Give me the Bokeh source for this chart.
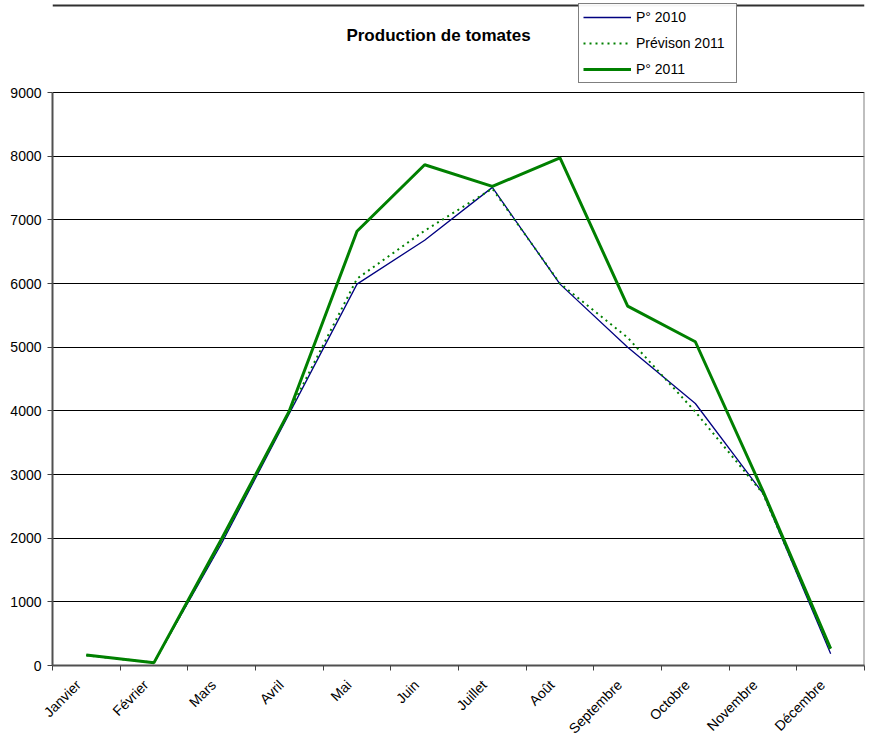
from bokeh.plotting import figure
from bokeh.models import (Range1d, FixedTicker, CustomJSTickFormatter, Label, Legend,
                          LegendItem, Span)
from bokeh.embed import file_html
from bokeh.resources import INLINE
import math

months = ["Janvier", "Février", "Mars", "Avril", "Mai", "Juin", "Juillet",
          "Août", "Septembre", "Octobre", "Novembre", "Décembre"]
p2010 = [160, 45, 1920, 3960, 5990, 6680, 7510, 5990, 5000, 4115, 2705, 185]
prev2011 = [160, 45, 1950, 3990, 6075, 6830, 7490, 6000, 5150, 3985, 2700, 230]
p2011 = [165, 45, 1990, 4000, 6820, 7865, 7525, 7975, 5645, 5085, 2740, 265]
y_ticks = [0, 1000, 2000, 3000, 4000, 5000, 6000, 7000, 8000, 9000]

xs = [i + 0.5 for i in range(len(months))]
label_ticks = [i + 0.38 for i in range(len(months))]
FONT = "Liberation Sans"

# the plotting frame reaches the top of the figure so that the title and the
# legend (drawn inside the frame) are not clipped; the value axis stops at 9000
y_top = y_ticks[-1] * 665 / 573

p = figure(width=865, height=746, output_backend="svg", toolbar_location=None,
           x_range=Range1d(0, len(months)), y_range=Range1d(y_ticks[0], y_top),
           min_border_left=52, min_border_right=1, min_border_top=0, min_border_bottom=81)
p.background_fill_color = "white"
p.border_fill_color = "white"
p.outline_line_color = None

# axes
p.xaxis.ticker = FixedTicker(ticks=label_ticks, minor_ticks=list(range(len(months) + 1)))
p.xaxis.formatter = CustomJSTickFormatter(args=dict(months=months),
                                          code="return months[Math.floor(tick)] || '';")
p.xaxis.major_label_orientation = math.pi / 4
p.xaxis.major_tick_out = 0
p.xaxis.major_tick_in = 0
p.xaxis.minor_tick_out = 5
p.xaxis.minor_tick_in = 0
p.xaxis.minor_tick_line_color = "#404040"
p.xaxis.major_label_standoff = 12

p.yaxis.ticker = FixedTicker(ticks=y_ticks, minor_ticks=[])
p.yaxis.bounds = (y_ticks[0], y_ticks[-1])
p.yaxis.major_tick_out = 5
p.yaxis.major_tick_in = 0
p.yaxis.major_label_standoff = 6

for ax in (p.xaxis, p.yaxis):
    ax.axis_line_color = "#505050"
    ax.axis_line_width = 2
    ax.major_tick_line_color = "#404040"
    ax.major_label_text_font = FONT
    ax.major_label_text_font_size = "14px"
    ax.major_label_text_color = "black"

p.xgrid.grid_line_color = None
p.ygrid.ticker = FixedTicker(ticks=y_ticks)
p.ygrid.grid_line_color = "#000000"
p.ygrid.grid_line_width = 1

# right edge of the plot area
p.segment(x0=[len(months)], y0=[y_ticks[0]], x1=[len(months)], y1=[y_ticks[-1]],
          line_color="#808080", line_width=2)

# outer chart border line at the very top
p.add_layout(Span(location=660, location_units="screen", dimension="width",
                  line_color="#303030", line_width=2))

r1 = p.line(xs, p2010, line_color="#000080", line_width=1.3)
r2 = p.line(xs, prev2011, line_color="#008000", line_width=2, line_dash="2 4")
r3 = p.line(xs, p2011, line_color="#008000", line_width=3)

legend = Legend(items=[LegendItem(label="P° 2010", renderers=[r1]),
                       LegendItem(label="Prévison 2011", renderers=[r2]),
                       LegendItem(label="P° 2011", renderers=[r3])],
                location=(526, 582))
legend.label_text_font = FONT
legend.label_text_font_size = "14px"
legend.label_text_color = "black"
legend.glyph_width = 48
legend.glyph_height = 18
legend.label_height = 18
legend.label_width = 96
legend.label_standoff = 5
legend.spacing = 8
legend.padding = 4
legend.margin = 0
legend.border_line_color = "black"
legend.border_line_width = 1
legend.background_fill_color = "white"
p.add_layout(legend, "center")

title = Label(x=386, y=630, x_units="screen", y_units="screen", text="Production de tomates",
              text_font=FONT, text_font_size="17px", text_font_style="bold",
              text_align="center", text_baseline="middle", text_color="black")
p.add_layout(title)

open("out.html", "w").write(file_html(p, INLINE))
